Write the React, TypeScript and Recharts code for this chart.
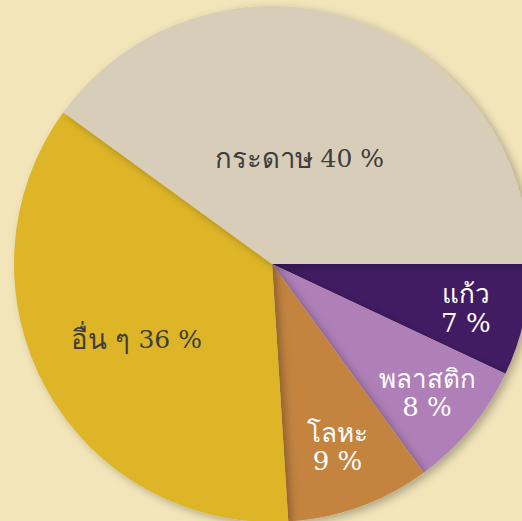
import React from 'react';
import { PieChart, Pie, Cell } from 'recharts';

// ส่วนประกอบขยะ (ร้อยละ) – clockwise from 3 o'clock
const materials = ['แก้ว', 'พลาสติก', 'โลหะ', 'อื่น ๆ', 'กระดาษ'];
const shares = [7, 8, 9, 36, 40];

const sliceColors = ['#431e63', '#af80b8', '#c48441', '#ddb526', '#d7cdb9'];
// label look per slice: distance from centre (fraction of radius), nudge, colour, stacked or inline
const labelStyle: Record<string, { r: number; dx: number; color: string; twoLine: boolean }> = {
  'แก้ว': { r: 0.77, dx: 0, color: '#ffffff', twoLine: true },
  'พลาสติก': { r: 0.78, dx: 0, color: '#ffffff', twoLine: true },
  'โลหะ': { r: 0.75, dx: 0, color: '#ffffff', twoLine: true },
  'อื่น ๆ': { r: 0.6, dx: 0, color: '#3d3d3d', twoLine: false },
  'กระดาษ': { r: 0.43, dx: -7, color: '#3d3d3d', twoLine: false },
};

const data = materials.map((name, i) => ({ name, value: shares[i] }));

const RADIAN = Math.PI / 180;
const FONT = '"DejaVu Serif", "Noto Sans", serif';

const renderLabel = (props: any) => {
  const { cx, cy, midAngle, outerRadius, name, value } = props;
  const st = labelStyle[name];
  const r = outerRadius * st.r;
  const x = cx + r * Math.cos(-midAngle * RADIAN) + st.dx;
  const y = cy + r * Math.sin(-midAngle * RADIAN);
  if (st.twoLine) {
    return (
      <text x={x} y={y} fill={st.color} textAnchor="middle" fontFamily={FONT} fontSize={26}>
        <tspan x={x} dy="-0.15em">{name}</tspan>
        <tspan x={x} dy="1.08em">{`${value} %`}</tspan>
      </text>
    );
  }
  return (
    <text x={x} y={y} fill={st.color} textAnchor="middle" dominantBaseline="central" fontFamily={FONT} fontSize={25}>
      <tspan fontSize={27.5}>{name}</tspan>
      <tspan>{` ${value} %`}</tspan>
    </text>
  );
};

const App: React.FC = () => {
  return (
    <div style={{ position: 'fixed', left: 0, top: 0, width: 522, height: 521, background: '#f2e5ba' }}>
      <PieChart width={522} height={521} margin={{ top: 0, right: 0, bottom: 0, left: 0 }}>
        <defs>
          <filter id="sliceShadow" x="-20%" y="-20%" width="140%" height="140%">
            <feDropShadow dx="4" dy="3" stdDeviation="4" floodColor="#000" floodOpacity="0.28" />
          </filter>
        </defs>
        <Pie
          data={data}
          dataKey="value"
          nameKey="name"
          cx={272}
          cy={264}
          outerRadius={258}
          startAngle={0}
          endAngle={-360}
          stroke="none"
          labelLine={false}
          label={renderLabel}
          isAnimationActive={false}
        >
          {data.map((entry, index) => (
            <Cell key={`cell-${index}`} fill={sliceColors[index]} filter="url(#sliceShadow)" />
          ))}
        </Pie>
      </PieChart>
    </div>
  );
};

export default App;
